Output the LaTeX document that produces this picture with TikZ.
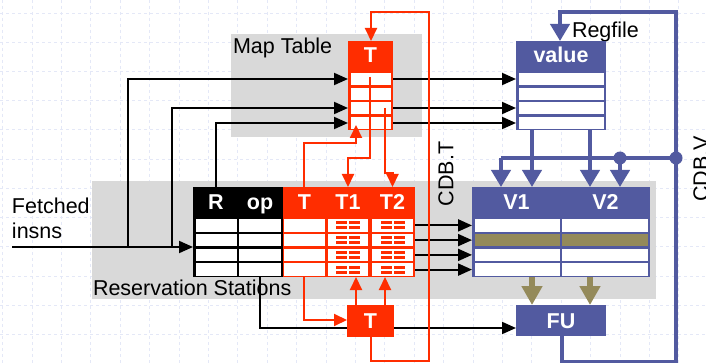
\documentclass[tikz,border=0pt]{standalone}
\usepackage{fontspec}
\setmainfont{Liberation Sans}
\usetikzlibrary{arrows.meta}
\definecolor{cred}{RGB}{255,45,0}
\definecolor{cblue}{RGB}{82,90,160}
\definecolor{colive}{RGB}{148,138,90}
\definecolor{cgray}{RGB}{217,217,217}
\definecolor{cgrid}{RGB}{228,232,247}
\tikzset{
  lbl/.style={font=\fontsize{21.5}{24}\selectfont, inner sep=0pt, outer sep=0pt},
  hdr/.style={font=\fontsize{21.5}{24}\selectfont\bfseries, text=white, inner sep=0pt, outer sep=0pt, anchor=base},
  area/.style n args={2}{anchor=north west, minimum width=#1, minimum height=#2, inner sep=0pt, outer sep=0pt},
  gridl/.style={draw=cgrid, line width=0.6pt, dashed},
  blk/.style={line width=2pt, draw=black, -{Triangle[length=14pt,width=12pt]}},
  blkl/.style={line width=2pt, draw=black},
  redar/.style={line width=2pt, draw=cred, -{Triangle[length=13pt,width=12pt]}},
  redl/.style={line width=2pt, draw=cred},
  bluear/.style={line width=4pt, draw=cblue, -{Triangle[length=17pt,width=19pt]}},
  bluel/.style={line width=4pt, draw=cblue},
  olivear/.style={line width=6pt, draw=colive, -{Triangle[length=19pt,width=20pt]}},
}
% rows of white cells: x1 x2 ytop rowh n
\newcommand\cellrows[5]{%
  \foreach \i in {1,...,#5}{%
    \fill[white] (#1,{#3+(\i-1)*#4+1.2}) rectangle (#2,{#3+\i*#4-1.2});}}
% dash marks in a T1/T2 cell column: xmid ytop rowh
\newcommand\dashmarks[3]{%
  \foreach \i in {1,...,4}{%
    \pgfmathsetmacro\ym{#2+(\i-0.5)*#3}
    \fill[cred] ({#1-12},{\ym-4}) rectangle ({#1-1},{\ym-1});
    \fill[cred] ({#1+1},{\ym-4}) rectangle ({#1+12},{\ym-1});
    \fill[cred] ({#1-12},{\ym+1}) rectangle ({#1-1},{\ym+4});
    \fill[cred] ({#1+1},{\ym+1}) rectangle ({#1+12},{\ym+4});}}
\begin{document}
\begin{tikzpicture}[x=1pt,y=-1pt]
\useasboundingbox (0,0) rectangle (706,363);
\fill[white] (0,0) rectangle (706,363);
\foreach \k in {0,...,24} \draw[gridl] ({2.5+29.4*\k},0) -- ({2.5+29.4*\k},363);
\foreach \k in {0,...,12} \draw[gridl] (0,{13+29.2*\k}) -- (706,{13+29.2*\k});

% gray areas and their labels
\node[area={191}{103}, fill=cgray] (mtarea) at (231,34) {};
\node[area={564}{118}, fill=cgray] (rsarea) at (92,181) {};
\node[lbl, anchor=base west] (mtlbl) at (233,53.4) {Map Table};
\node[lbl, anchor=base west] (rslbl) at (93,295.5) {Reservation Stations};
\node[lbl, anchor=base west] (fetched) at (12,213.5) {Fetched};
\node[lbl, anchor=base west] (insns) at (12,239) {insns};
\node[lbl, anchor=base west] (rflbl) at (572,37.5) {Regfile};
\node[lbl, rotate=90] (cdbt) at (446,174) {CDB.T};
\node[lbl, rotate=90] (cdbv) at (701,169) {CDB.V};

% table outlines as named nodes
\node[area={45}{89}, fill=cred] (mt) at (348,41) {};
\node[area={90}{90}, fill=black] (rsb) at (193,187) {};
\node[area={132}{90}, fill=cred] (rsr) at (283,187) {};
\node[area={178}{90}, fill=cblue] (vt) at (472,187) {};
\node[area={90}{89}, fill=cblue] (rf) at (516,41) {};

% coordinates
\coordinate (fin) at (12,247);
\coordinate (j1) at (128,247);
\coordinate (j2) at (172,247);
\coordinate (rsRtop) at (216,187);
\coordinate (opbot) at (260,277);

% black connectors (under the tables)
\draw[blk] (fin) -- (rsb.west |- fin);
\draw[blk] (j1) |- (mt.west |- 0,79);
\draw[blk] (j2) |- (mt.west |- 0,108);
\draw[blk] (rsRtop) |- (mt.west |- 0,123);
\draw[blk] (mt.east |- 0,79) -- (rf.west |- 0,79);
\draw[blk] (mt.east |- 0,108) -- (rf.west |- 0,108);
\draw[blk] (mt.east |- 0,123) -- (rf.west |- 0,123);
\foreach \yy in {225.4,240.1,254.9,269.6}
  \draw[blk] (rsr.east |- 0,\yy) -- (vt.west |- 0,\yy);

% map table cells
\cellrows{350.5}{390.5}{72}{14.5}{4}
\node[hdr] (mtT) at (370.5,63) {T};

% RS table cells
\cellrows{195.5}{237}{218}{14.75}{4}
\cellrows{239}{281}{218}{14.75}{4}
\cellrows{284}{325}{218}{14.75}{4}
\cellrows{328}{368}{218}{14.75}{4}
\cellrows{372}{413}{218}{14.75}{4}
\dashmarks{348}{218}{14.75}
\dashmarks{392.5}{218}{14.75}
\node[hdr] (rsR) at (216,209.5) {R};
\node[hdr] (rsop) at (260,209.5) {op};
\node[hdr] (rsT) at (304.5,209.5) {T};
\node[hdr] (rsT1) at (348,209.5) {T1};
\node[hdr] (rsT2) at (392.5,209.5) {T2};

% V table cells
\cellrows{474.5}{560}{218}{14.75}{4}
\cellrows{562}{647.5}{218}{14.75}{4}
\fill[colive] (474.5,{232.75+1.2}) rectangle (560,{247.5-1.2});
\fill[colive] (562,{232.75+1.2}) rectangle (647.5,{247.5-1.2});
\node[hdr] (V1) at (516.5,210) {V1};
\node[hdr] (V2) at (605.5,210) {V2};

% regfile cells
\cellrows{518.5}{603.5}{72}{14.5}{4}
\node[hdr] (value) at (561,63) {value};

% op -> FU black line (under T box)
\node[area={90}{31}, fill=cblue] (fu) at (516,305) {};
\node[hdr] (fulbl) at (561,328) {FU};
\draw[blk] (opbot) |- (fu.west |- 0,328);

% red connectors
\node[area={47}{32}, fill=cred] (tb) at (347,305) {};
\node[hdr] (tblbl) at (370.5,328) {T};
\coordinate (tbbot) at (371,337);
\draw[redar] (tbbot) -- (371,361) -- (429,361) -- (429,12) -- (371,12) -- (mt.north -| 371,0);
\coordinate (mtr1) at (370,77);
\draw[redar] (mtr1) -- (370,158) -- (348,158) -- (rsr.north -| 348,0);
\coordinate (mtr3) at (385,108);
\draw[redar] (mtr3) -- (385,173) -- (392.5,173) -- (rsr.north -| 392.5,0);
\coordinate (rsTtop) at (304,187);
\draw[redar] (rsTtop) -- (304,143) -- (356,143) -- (356,125);
\coordinate (rsTbot) at (304,277);
\draw[redar] (rsTbot) |- (tb.west |- 0,320);
\draw[redar] (tb.north -| 356,0) -- (rsr.south -| 356,0);
\draw[redar] (tb.north -| 385,0) -- (rsr.south -| 385,0);

% blue connectors
\coordinate (fubot) at (562,336);
\draw[bluear] (fubot) -- (562,362) -- (676,362) -- (676,12) -- (560,12) -- (rf.north -| 560,0);
\draw[bluear] (rf.south -| 532,0) -- (vt.north -| 532,0);
\draw[bluear] (rf.south -| 590,0) -- (vt.north -| 590,0);
\coordinate (busL) at (501,158);
\coordinate (busD) at (620,158);
\coordinate (busR) at (676,158);
\draw[bluel] (busL) -- (busR);
\draw[bluear] (busL) -- (vt.north -| busL);
\draw[bluear] (busD) -- (vt.north -| busD);
\fill[cblue] (busD) circle (6.5);
\fill[cblue] (busR) circle (6.5);

% olive arrows
\draw[olivear] (vt.south -| 532,0) -- (fu.north -| 532,0);
\draw[olivear] (vt.south -| 590,0) -- (fu.north -| 590,0);
\end{tikzpicture}
\end{document}
